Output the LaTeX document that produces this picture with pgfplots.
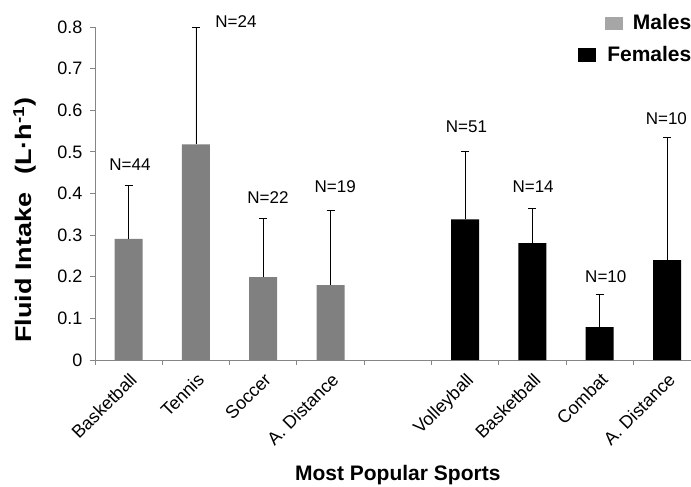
\documentclass[border=0pt]{standalone}
\usepackage{fontspec}
\setmainfont{Liberation Sans}
\newfontfamily\widesans{Liberation Sans}[FakeStretch=1.2]
\usepackage{pgfplots}
\pgfplotsset{compat=1.18}
\definecolor{malebar}{RGB}{128,128,128}
\definecolor{malekey}{RGB}{166,166,166}
\definecolor{axisgray}{RGB}{134,134,134}
\newcommand{\tickfont}{\fontsize{18bp}{21bp}\selectfont}
\newcommand{\nfont}{\fontsize{17bp}{20bp}\selectfont}
\newcommand{\xtitlefont}{\fontsize{21bp}{25bp}\selectfont\bfseries}
\newcommand{\ytitlefont}{\widesans\fontsize{22.5bp}{26bp}\selectfont\bfseries}
\newcommand{\legfont}{\fontsize{21bp}{25bp}\selectfont\bfseries}
\begin{document}
\begin{tikzpicture}
\begin{axis}[
  at={(0,0)}, anchor=south west,
  scale only axis, width=596bp, height=333bp,
  xmin=-0.5, xmax=8.356, ymin=0, ymax=0.8,
  axis x line=bottom, axis y line=left,
  axis line style={axisgray, line width=0.8pt, -},
  tick align=outside,
  major tick length=5bp, minor tick length=5bp,
  tick style={axisgray, line width=0.8pt},
  xtick={0,1,2,3,5,6,7,8},
  xticklabels={Basketball,Tennis,Soccer,A. Distance,Volleyball,Basketball,Combat,A. Distance},
  major x tick style={draw=none},
  minor xtick={-0.5,0.5,1.5,2.5,3.5,4.5,5.5,6.5,7.5},
  ytick={0,0.1,0.2,0.3,0.4,0.5,0.6,0.7,0.8},
  yticklabels={0,0.1,0.2,0.3,0.4,0.5,0.6,0.7,0.8},
  x tick label style={yshift=-2bp, rotate=45, anchor=north east, font=\tickfont},
  y tick label style={font=\tickfont, xshift=-4bp},
  xlabel={Most Popular Sports},
  xlabel style={at={(axis description cs:0.508,-0.345)}, anchor=center, font=\xtitlefont},
  ylabel={Fluid Intake\hspace{0.45em} (L·h\textsuperscript{-1})},
  ylabel style={at={(axis description cs:-0.118,0.42)}, anchor=center, font=\ytitlefont},
  clip=false,
]
% males
\addplot[ybar, bar width=28bp, bar shift=0pt, fill=malebar, draw=none,
  error bars/.cd, y dir=plus, y explicit,
  error bar style={draw=black, line width=0.8pt},
  error mark options={draw=black, line width=0.8pt, mark size=4bp, rotate=90}]
  coordinates {
    (0,0.291) +- (0,0.128)
    (1,0.518) +- (0,0.282)
    (2,0.199) +- (0,0.140)
    (3,0.180) +- (0,0.179)
  };
% females
\addplot[ybar, bar width=28bp, bar shift=0pt, fill=black, draw=none,
  error bars/.cd, y dir=plus, y explicit,
  error bar style={draw=black, line width=0.8pt},
  error mark options={draw=black, line width=0.8pt, mark size=4bp, rotate=90}]
  coordinates {
    (5,0.338) +- (0,0.164)
    (6,0.281) +- (0,0.084)
    (7,0.079) +- (0,0.078)
    (8,0.240) +- (0,0.294)
  };
% sample sizes
\begin{scope}[every node/.style={font=\nfont, anchor=center}]
\node at (axis cs:0.02,0.469) {N=44};
\node at (axis cs:1.595,0.8125) {N=24};
\node at (axis cs:2.07,0.39) {N=22};
\node at (axis cs:3.07,0.416) {N=19};
\node at (axis cs:5.02,0.56) {N=51};
\node at (axis cs:6.01,0.416) {N=14};
\node at (axis cs:7.09,0.20) {N=10};
\node at (axis cs:7.99,0.579) {N=10};
\end{scope}
\end{axis}
% legend
\node[anchor=base east, font=\legfont, inner sep=0pt] at (596.5bp,330bp)
  {\textcolor{malekey}{\rule{18bp}{12.5bp}}\hspace{10bp}Males};
\node[anchor=base east, font=\legfont, inner sep=0pt] at (596.5bp,298bp)
  {\textcolor{black}{\rule{18bp}{14bp}}\hspace{11bp}Females};
\pgfresetboundingbox
\path[use as bounding box] (-95bp,-127bp) rectangle (596bp,360bp);
\end{tikzpicture}
\end{document}
